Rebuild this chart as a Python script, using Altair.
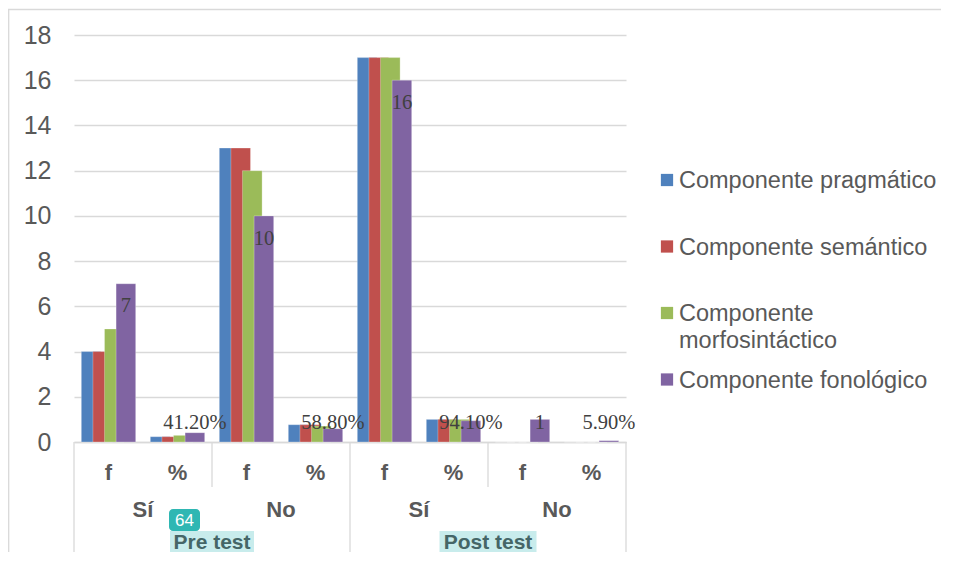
import altair as alt
import pandas as pd

# ---------------- data ----------------
tests = ["Pre test", "Post test"]
answers = ["Sí", "No"]
measures = ["f", "%"]
series = ["Componente pragmático", "Componente semántico",
          "Componente morfosintáctico", "Componente fonológico"]
colors = ["#4F81BD", "#C0504D", "#9BBB59", "#8064A2"]

# values per category, order: Pre Sí f, Pre Sí %, Pre No f, Pre No %, Post Sí f, Post Sí %, Post No f, Post No %
pragmatico = [4, 0.235, 13, 0.765, 17, 1.0, 0, 0.0]
semantico = [4, 0.235, 13, 0.765, 17, 1.0, 0, 0.0]
morfosintactico = [5, 0.294, 12, 0.706, 17, 1.0, 0, 0.0]
fonologico = [7, 0.412, 10, 0.588, 16, 0.941, 1, 0.059]
fonologico_labels = ["7", "41.20%", "10", "58.80%", "16", "94.10%", "1", "5.90%"]

legend_line1 = ["Componente pragmático", "Componente semántico", "Componente", "Componente fonológico"]
legend_line2 = ["", "", "morfosintáctico", ""]

badge_text = "64"

# ---------------- tables ----------------
cats = [f"{t}|{a}|{m}" for t in ["Pre", "Post"] for a in answers for m in measures]
values = [pragmatico, semantico, morfosintactico, fonologico]

rows = []
for s, vals in zip(series, values):
    for c, v in zip(cats, vals):
        rows.append({"cat": c, "series": s, "value": v})
bars_df = pd.DataFrame(rows)

lab_df = pd.DataFrame({
    "cat": cats,
    "series": series[3],
    "value": fonologico,
    "label": fonologico_labels,
})
lab_df["label_y"] = [max(v - 1.0, 0.84) for v in fonologico]

row2_df = pd.DataFrame({
    "cat": [c for c in cats if c.endswith("|%")],
    "text": [a for t in tests for a in answers],
})
row3_df = pd.DataFrame({"cat": ["Pre|No|f", "Post|No|f"], "text": tests})

sep_short = pd.DataFrame({"cat": ["Pre|No|f", "Post|No|f"]})
sep_long_left = pd.DataFrame({"cat": ["Pre|Sí|f", "Post|Sí|f"]})
sep_long_right = pd.DataFrame({"cat": ["Post|No|%"]})

legend_df = pd.DataFrame({"series": series, "line1": legend_line1, "line2": legend_line2})

W, H = 552, 407
PB = 110  # bottom padding
PR = 315  # right padding
GRAY = "#595959"
LINE = "#d9d9d9"
SANS = "Liberation Sans"

xscale = alt.Scale(domain=cats, paddingInner=0, paddingOuter=0)
xoff_scale = alt.Scale(domain=series, paddingInner=0, paddingOuter=0.975)
color_scale = alt.Scale(domain=series, range=colors)

X = alt.X("cat:N", scale=xscale, sort=cats,
          axis=alt.Axis(title=None, labelExpr="split(datum.label, '|')[2]",
                        labelFont=SANS, labelFontSize=22, labelFontWeight="bold",
                        labelColor=GRAY, labelAngle=0, labelBaseline="middle",
                        labelPadding=30, ticks=False, tickSize=0,
                        domainColor=LINE, domainWidth=1.3, grid=False))

bars = alt.Chart(bars_df).mark_bar(width=19.6, stroke="white", strokeOpacity=0.35,
                                   strokeWidth=0.8).encode(
    x=X,
    xOffset=alt.XOffset("series:N", scale=xoff_scale, sort=series),
    y=alt.Y("value:Q", scale=alt.Scale(domain=[0, 18], nice=False),
            axis=alt.Axis(title=None, values=list(range(0, 19, 2)),
                          labelFont=SANS, labelFontSize=25, labelColor=GRAY,
                          labelPadding=23, ticks=False, tickSize=0, domain=False,
                          gridColor=LINE, gridWidth=1.3)),
    color=alt.Color("series:N", scale=color_scale, legend=None),
    order=alt.Order("series:N"),
)

labels = alt.Chart(lab_df).mark_text(font="Liberation Serif", fontSize=20.5,
                                     color="#404040", baseline="middle").encode(
    x=alt.X("cat:N", scale=xscale, sort=cats),
    xOffset=alt.XOffset("series:N", scale=xoff_scale, sort=series),
    y=alt.Y("label_y:Q"),
    text="label:N",
)

sep1 = alt.Chart(sep_short).mark_rule(color=LINE, strokeWidth=1.3).encode(
    x=alt.X("cat:N", scale=xscale, sort=cats, bandPosition=0),
    y=alt.value(H), y2=alt.value(452))
sep2 = alt.Chart(sep_long_left).mark_rule(color=LINE, strokeWidth=1.3).encode(
    x=alt.X("cat:N", scale=xscale, sort=cats, bandPosition=0),
    y=alt.value(H), y2=alt.value(H + PB))
sep3 = alt.Chart(sep_long_right).mark_rule(color=LINE, strokeWidth=1.3).encode(
    x=alt.X("cat:N", scale=xscale, sort=cats, bandPosition=1),
    y=alt.value(H), y2=alt.value(H + PB))

row2 = alt.Chart(row2_df).mark_text(font=SANS, fontSize=22, fontWeight="bold",
                                    color=GRAY, baseline="middle").encode(
    x=alt.X("cat:N", scale=xscale, sort=cats, bandPosition=0),
    y=alt.value(474.5), text="text:N")

hl_pre = alt.Chart(row3_df.iloc[[0]]).mark_bar(width=84, xOffset=-34.5, color="#c8ecec").encode(
    x=alt.X("cat:N", scale=xscale, sort=cats), y=alt.value(496), y2=alt.value(517))
hl_post = alt.Chart(row3_df.iloc[[1]]).mark_bar(width=97, xOffset=-34.5, color="#c8ecec").encode(
    x=alt.X("cat:N", scale=xscale, sort=cats), y=alt.value(496), y2=alt.value(517))

row3 = alt.Chart(row3_df).mark_text(font=SANS, fontSize=21, fontWeight="bold",
                                    color="#456667", baseline="middle").encode(
    x=alt.X("cat:N", scale=xscale, sort=cats, bandPosition=0),
    y=alt.value(507.5), text="text:N")

badge_df = pd.DataFrame({"cat": ["Pre|Sí|%"], "text": [badge_text]})
badge = alt.Chart(badge_df).mark_bar(width=31, xOffset=7, cornerRadius=4, color="#2fb7b3").encode(
    x=alt.X("cat:N", scale=xscale, sort=cats), y=alt.value(474), y2=alt.value(496))
badge_txt = alt.Chart(badge_df).mark_text(font=SANS, fontSize=17, color="white",
                                          baseline="middle", dx=7).encode(
    x=alt.X("cat:N", scale=xscale, sort=cats), y=alt.value(485.5), text="text:N")

frame_df = pd.DataFrame({"k": [0]})
border_top = alt.Chart(frame_df).mark_rule(color=LINE, strokeWidth=1.3).encode(
    x=alt.value(-66), x2=alt.value(W + PR + 50), y=alt.value(-25.5))
border_left = alt.Chart(frame_df).mark_rule(color=LINE, strokeWidth=1.3).encode(
    x=alt.value(-65.3), y=alt.value(-26), y2=alt.value(H + PB))

main = alt.layer(border_top, border_left, bars, labels, sep1, sep2, sep3, row2,
                 hl_pre, hl_post, row3, badge, badge_txt)

LY = alt.Y("series:N", sort=series,
           scale=alt.Scale(type="point", domain=series, range=[145, 344.5], padding=0),
           axis=None)
leg_sq = alt.Chart(legend_df).mark_square(size=150, opacity=1).encode(
    x=alt.value(593), y=LY,
    color=alt.Color("series:N", scale=color_scale, legend=None))
leg_t1 = alt.Chart(legend_df).mark_text(font=SANS, fontSize=23.5, color=GRAY,
                                        align="left", baseline="middle", dy=1).encode(
    x=alt.value(605), y=LY, text="line1:N")
leg_t2 = alt.Chart(legend_df).transform_filter("datum.line2 != ''").mark_text(
    font=SANS, fontSize=23.5, color=GRAY, align="left", baseline="middle", dy=28).encode(
    x=alt.value(605), y=LY, text="line2:N")

legend = alt.layer(leg_sq, leg_t1, leg_t2)

chart = alt.layer(main, legend).resolve_scale(y="independent").properties(
    width=W, height=H,
    autosize=alt.AutoSizeParams(type="none"),
    padding={"left": 66, "top": 27, "right": PR, "bottom": PB},
    background="white",
).configure_view(strokeWidth=0)

chart.save("out.html", embed_options={"renderer": "svg", "actions": False})
